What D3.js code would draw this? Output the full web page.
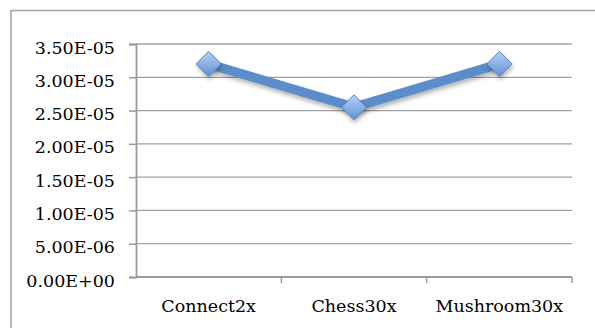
<!DOCTYPE html>
<html>
<head>
<meta charset="utf-8">
<script src="https://cdn.jsdelivr.net/npm/d3@7"></script>
<style>
  body { margin: 0; background: #fff; }
  text { font-family: 'DejaVu Serif', serif; fill: #000; }
</style>
</head>
<body>
<div id="chart"></div>
<script>
// data
var categories = ["Connect2x", "Chess30x", "Mushroom30x"];
var values = [3.2e-5, 2.55e-5, 3.2e-5];
var yTicks = [0, 5e-6, 1e-5, 1.5e-5, 2e-5, 2.5e-5, 3e-5, 3.5e-5];

var W = 595, H = 328;
var margin = {top: 44, right: 23, bottom: 51, left: 136},
  width = W - margin.left - margin.right,
  height = H - margin.top - margin.bottom;

// excel style scientific label, e.g. 3.50E-05
function sci(v) {
  if (v === 0) return "0.00E+00";
  var e = Math.floor(Math.log10(Math.abs(v)) + 1e-9);
  var m = v / Math.pow(10, e);
  var s = e < 0 ? "-" : "+";
  var ee = Math.abs(e);
  return m.toFixed(2) + "E" + s + (ee < 10 ? "0" + ee : ee);
}

var svg = d3.select("#chart")
  .append("svg")
  .attr("width", W)
  .attr("height", H);

var defs = svg.append("defs");
var shadow = defs.append("filter")
  .attr("id", "shadow")
  .attr("x", "-20%").attr("y", "-20%")
  .attr("width", "140%").attr("height", "160%");
shadow.append("feDropShadow")
  .attr("dx", 1).attr("dy", 3)
  .attr("stdDeviation", 2)
  .attr("flood-color", "#000")
  .attr("flood-opacity", 0.3);

var grad = defs.append("linearGradient")
  .attr("id", "diamondFill")
  .attr("x1", "0").attr("y1", "0")
  .attr("x2", "0").attr("y2", "1");
grad.append("stop").attr("offset", "0%").attr("stop-color", "#b5d1f3");
grad.append("stop").attr("offset", "100%").attr("stop-color", "#5f92d6");

// outer chart border
svg.append("rect")
  .attr("x", 11).attr("y", 10.5)
  .attr("width", W).attr("height", H)
  .attr("fill", "none")
  .attr("stroke", "#a3a3a3")
  .attr("stroke-width", 1.5);

var g = svg.append("g")
  .attr("transform", "translate(" + margin.left + "," + margin.top + ")");

var x = d3.scaleBand()
  .domain(categories)
  .range([0, width])
  .padding(0);

var y = d3.scaleLinear()
  .domain([0, 3.5e-5])
  .range([height, 0]);

// gridlines
g.append("g")
  .selectAll("line")
  .data(yTicks.filter(function(d) { return d > 0; }))
  .enter()
  .append("line")
    .attr("x1", 0)
    .attr("x2", width)
    .attr("y1", function(d) { return y(d); })
    .attr("y2", function(d) { return y(d); })
    .attr("stroke", "#a2a2a2")
    .attr("stroke-width", 1.3);

// y axis
var yAxis = g.append("g")
  .call(d3.axisLeft(y).tickValues(yTicks).tickFormat(sci).tickSize(7).tickPadding(14));
yAxis.select(".domain").attr("stroke", "#9a9a9a").attr("stroke-width", 1.8);
yAxis.selectAll(".tick line").attr("stroke", "#9a9a9a").attr("stroke-width", 1.5);
yAxis.selectAll(".tick text")
  .attr("dy", "0.52em")
  .style("font-size", "17.5px")
  .style("font-family", "'DejaVu Serif'")
  .attr("fill", "#000");

// x axis with ticks at category boundaries
var xg = g.append("g")
  .attr("transform", "translate(0," + height + ")");
xg.append("line")
  .attr("x1", 0).attr("x2", width)
  .attr("stroke", "#9a9a9a")
  .attr("stroke-width", 1.8);
var bounds = categories.map(function(c) { return x(c); }).concat([width]);
xg.selectAll("line.tick")
  .data(bounds.slice(1))
  .enter()
  .append("line")
    .attr("class", "tick")
    .attr("x1", function(d) { return d; })
    .attr("x2", function(d) { return d; })
    .attr("y1", 0).attr("y2", 6)
    .attr("stroke", "#9a9a9a")
    .attr("stroke-width", 1.5);
xg.selectAll("text")
  .data(categories)
  .enter()
  .append("text")
    .attr("x", function(d) { return x(d) + x.bandwidth() / 2; })
    .attr("y", 35)
    .attr("text-anchor", "middle")
    .style("font-size", "17.5px")
    .text(function(d) { return d; });

// series line
var pts = categories.map(function(c, i) { return [x(c) + x.bandwidth() / 2, y(values[i])]; });
g.append("path")
  .datum(pts)
  .attr("d", d3.line())
  .attr("fill", "none")
  .attr("stroke", "#5a8dc9")
  .attr("stroke-width", 9.5)
  .attr("stroke-linejoin", "round")
  .attr("filter", "url(#shadow)");

// diamond markers
g.selectAll("path.marker")
  .data(pts)
  .enter()
  .append("path")
    .attr("class", "marker")
    .attr("transform", function(d) { return "translate(" + d[0] + "," + d[1] + ")"; })
    .attr("d", "M0,-12.5L12.5,0L0,12.5L-12.5,0Z")
    .attr("fill", "url(#diamondFill)")
    .attr("stroke", "#4f82c4")
    .attr("stroke-width", 1)
    .attr("filter", "url(#shadow)");
</script>
</body>
</html>
